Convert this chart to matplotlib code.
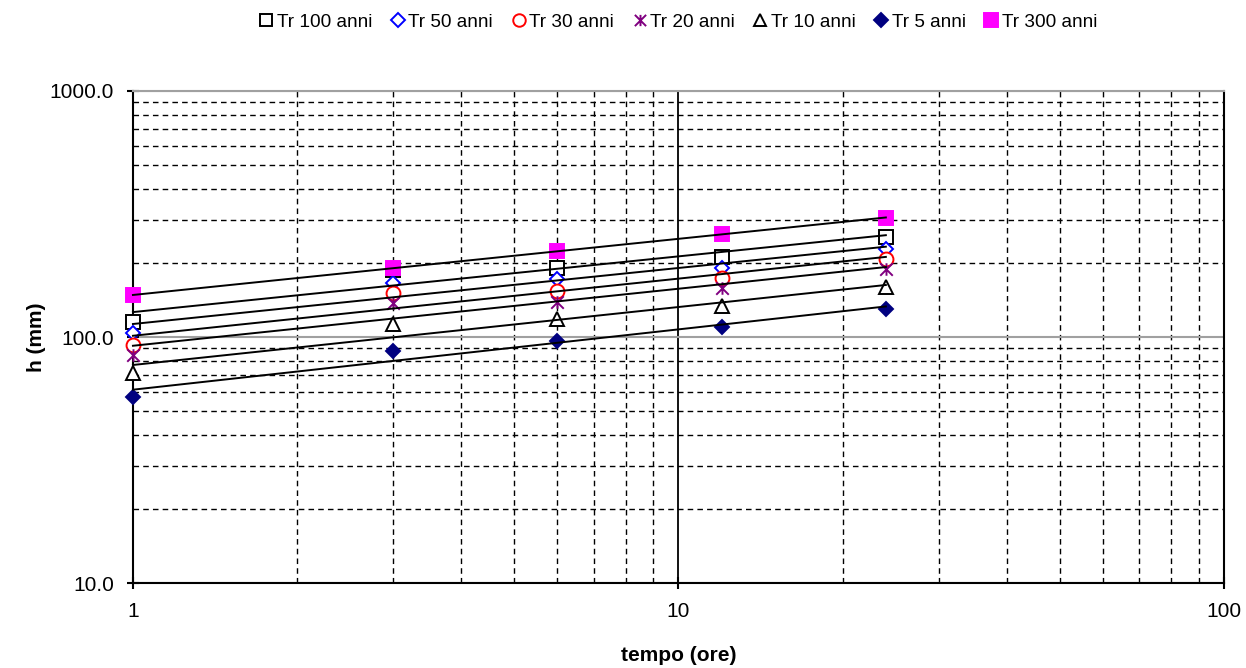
import matplotlib
matplotlib.use('Agg')
import matplotlib.pyplot as plt
import numpy as np
from matplotlib.path import Path
from matplotlib.ticker import LogLocator, FixedLocator, FuncFormatter, NullFormatter

plt.rcParams['font.family'] = ['Liberation Sans', 'DejaVu Sans']

# durata (ore)
durate = [1, 3, 6, 12, 24]

# altezze di pioggia (mm) per tempo di ritorno
tr100 = [115.4, 188, 190.3, 212.1, 254.3]
tr50 = [103.8, 165.8, 172.2, 190.8, 227.9]
tr30 = [92.8, 150.5, 153.8, 173.7, 207.0]
tr20 = [84.5, 137.5, 139.2, 158.2, 188.4]
tr10 = [71.2, 112.9, 118.4, 133.7, 159.2]
tr5 = [57.2, 88.0, 96.3, 110.1, 129.6]
tr300 = [148.2, 190, 223.7, 261.6, 305.5]

labels = ['Tr 100 anni', 'Tr 50 anni', 'Tr 30 anni', 'Tr 20 anni',
          'Tr 10 anni', 'Tr 5 anni', 'Tr 300 anni']
serie = [tr100, tr50, tr30, tr20, tr10, tr5, tr300]

# marker tipo "stella" di Excel (X + linea verticale)
star = Path([(-1, -1), (1, 1), (-1, 1), (1, -1), (0, -1), (0, 1)],
            [Path.MOVETO, Path.LINETO, Path.MOVETO, Path.LINETO, Path.MOVETO, Path.LINETO])

stili = [
    dict(marker='s', ms=10, mfc='white', mec='black'),
    dict(marker='D', ms=7.5, mfc='white', mec='#0000ff'),
    dict(marker='o', ms=10, mfc='white', mec='#ff0000'),
    dict(marker=star, ms=9, mfc='none', mec='#800080'),
    dict(marker='^', ms=10, mfc='white', mec='black'),
    dict(marker='D', ms=7.5, mfc='#000080', mec='#000080'),
    dict(marker='s', ms=10.5, mfc='#ff00ff', mec='#ff00ff'),
]

fig = plt.figure(figsize=(12.46, 6.68), dpi=100)
ax = fig.add_axes([0.1067, 0.1272, 0.8756, 0.7366])

x = np.array(durate, dtype=float)
for vals, lab, st in zip(serie, labels, stili):
    ax.plot(durate, vals, ls='none', mew=1.4, label=lab, zorder=3, clip_on=False, **st)
    # linea di tendenza (potenza)
    b, a = np.polyfit(np.log(x), np.log(vals), 1)
    ax.plot(x, np.exp(a) * x ** b, color='black', lw=1.4, zorder=4, clip_on=False)

ax.set_xscale('log')
ax.set_yscale('log')
ax.set_xlim(1, 100)
ax.set_ylim(10, 1000)

ax.xaxis.set_major_locator(FixedLocator([1, 10, 100]))
ax.xaxis.set_minor_locator(LogLocator(base=10, subs=np.arange(2, 10)))
ax.yaxis.set_major_locator(FixedLocator([10, 100, 1000]))
ax.yaxis.set_minor_locator(LogLocator(base=10, subs=np.arange(2, 10)))
ax.xaxis.set_major_formatter(FuncFormatter(lambda v, p: f'{v:g}'))
ax.yaxis.set_major_formatter(FuncFormatter(lambda v, p: f'{v:.1f}'))
ax.xaxis.set_minor_formatter(NullFormatter())
ax.yaxis.set_minor_formatter(NullFormatter())

ax.grid(which='minor', axis='both', color='black', ls=(0, (4, 3)), lw=1)
ax.grid(which='major', axis='y', color='#a0a0a0', ls='-', lw=1.5)
ax.grid(which='major', axis='x', color='black', ls='-', lw=1.3)
ax.set_axisbelow(True)

ax.spines['top'].set_color('#a0a0a0')
ax.spines['top'].set_linewidth(1.5)
ax.spines['right'].set_linewidth(1.5)
ax.spines['left'].set_linewidth(1.5)
ax.spines['bottom'].set_linewidth(1.5)

ax.tick_params(which='major', direction='inout', length=9, width=1.5, labelsize=15, pad=9)
ax.tick_params(which='minor', length=0)

ax.set_xlabel('tempo (ore)', fontsize=15, fontweight='bold', labelpad=18)
ax.set_ylabel('h (mm)', fontsize=15, fontweight='bold', labelpad=3)

fig.legend(loc='upper center', bbox_to_anchor=(0.543, 1.005), ncol=7, frameon=False,
           fontsize=13.7, handletextpad=0.0, columnspacing=0.8, handlelength=1.1,
           markerscale=0.9)

fig.savefig('out.png', dpi=100)
